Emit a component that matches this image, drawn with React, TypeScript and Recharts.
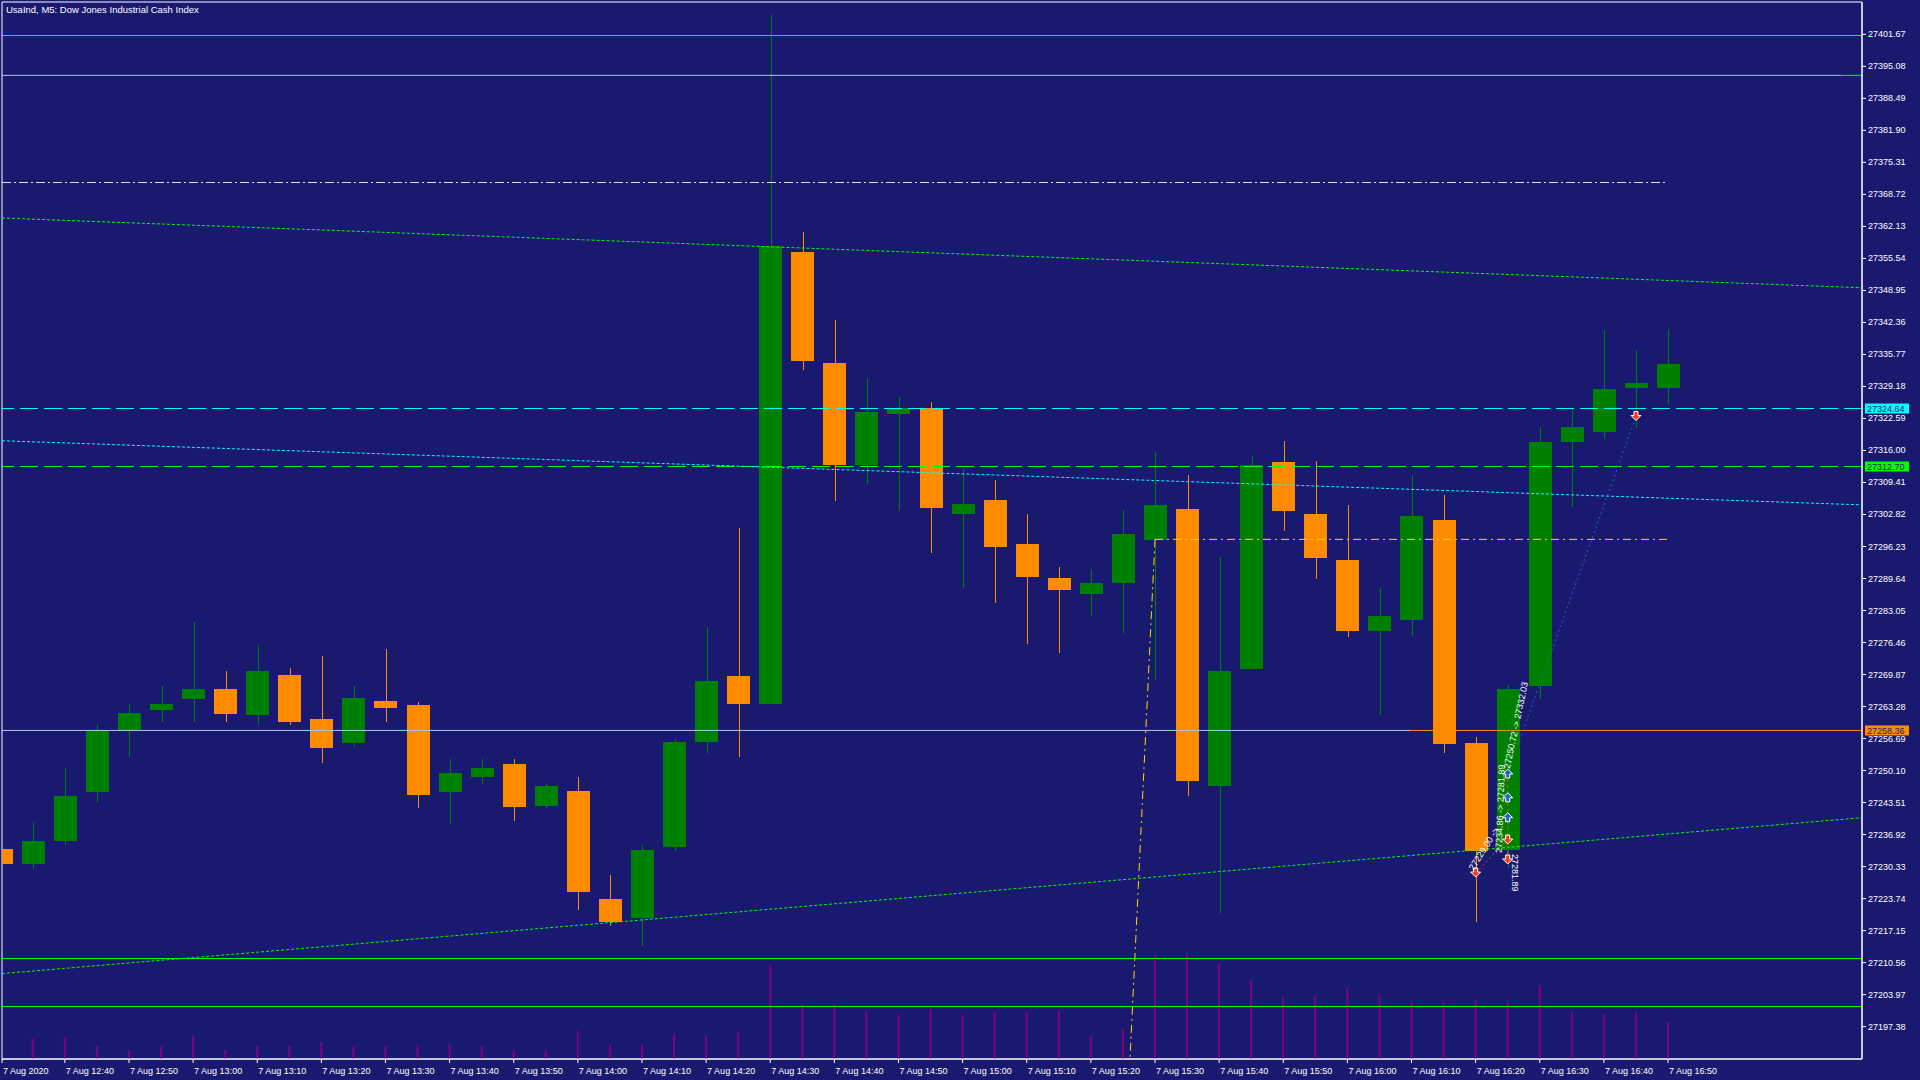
import React from 'react';
import { ComposedChart, Bar, XAxis, YAxis, ReferenceLine, ReferenceArea, ReferenceDot } from 'recharts';

const title = 'UsaInd, M5:  Dow Jones Industrial Cash Index';
const dateLabel = '7 Aug 2020';
const dayPrefix = '7 Aug';

const times = [
  '12:30', '12:35', '12:40', '12:45', '12:50', '12:55', '13:00', '13:05', '13:10', '13:15',
  '13:20', '13:25', '13:30', '13:35', '13:40', '13:45', '13:50', '13:55', '14:00', '14:05',
  '14:10', '14:15', '14:20', '14:25', '14:30', '14:35', '14:40', '14:45', '14:50', '14:55',
  '15:00', '15:05', '15:10', '15:15', '15:20', '15:25', '15:30', '15:35', '15:40', '15:45',
  '15:50', '15:55', '16:00', '16:05', '16:10', '16:15', '16:20', '16:25', '16:30', '16:35',
  '16:40', '16:45', '16:50',
];
const opens = [
  27234.0, 27230.8, 27235.5, 27245.6, 27258.2, 27262.5, 27264.8, 27266.8, 27261.5, 27269.8,
  27260.7, 27255.7, 27264.5, 27263.5, 27245.6, 27248.7, 27251.4, 27242.9, 27245.9, 27223.7,
  27219.7, 27234.3, 27256.0, 27269.6, 27263.8, 27356.9, 27334.0, 27313.0, 27323.5, 27324.7,
  27302.9, 27305.9, 27296.8, 27289.8, 27286.5, 27288.7, 27297.6, 27304.0, 27246.9, 27271.1,
  27313.6, 27302.9, 27293.5, 27278.9, 27281.2, 27301.7, 27255.8, 27233.8, 27267.6, 27317.8,
  27319.9, 27328.9, 27328.9,
];
const highs = [
  27236.0, 27239.3, 27250.7, 27259.5, 27263.8, 27267.6, 27280.7, 27270.6, 27275.9, 27271.3,
  27273.6, 27267.6, 27275.1, 27264.3, 27252.4, 27252.4, 27252.4, 27247.4, 27248.7, 27228.7,
  27234.8, 27256.7, 27279.7, 27300.1, 27405.7, 27361.0, 27342.9, 27330.9, 27327.0, 27326.0,
  27312.2, 27309.9, 27302.9, 27292.0, 27291.5, 27303.7, 27315.7, 27310.9, 27294.1, 27314.8,
  27318.0, 27313.8, 27304.8, 27287.7, 27310.9, 27306.8, 27257.0, 27267.7, 27320.8, 27324.7,
  27340.8, 27336.7, 27341.0,
];
const lows = [
  27229.0, 27229.8, 27234.8, 27243.6, 27252.9, 27260.0, 27260.0, 27260.0, 27259.5, 27259.5,
  27251.7, 27255.0, 27260.0, 27242.4, 27239.1, 27247.4, 27239.8, 27242.4, 27221.4, 27218.2,
  27213.9, 27233.5, 27253.7, 27252.9, 27263.8, 27332.5, 27305.6, 27309.0, 27303.6, 27294.8,
  27287.7, 27284.7, 27276.1, 27274.4, 27281.9, 27278.4, 27268.8, 27244.9, 27220.7, 27271.0,
  27299.5, 27289.6, 27277.6, 27261.5, 27277.9, 27253.8, 27218.9, 27230.0, 27264.8, 27304.4,
  27318.4, 27320.7, 27325.6,
];
const closes = [
  27230.8, 27235.5, 27244.9, 27258.5, 27262.0, 27263.8, 27266.8, 27261.8, 27270.6, 27260.0,
  27254.7, 27265.0, 27263.0, 27245.1, 27249.7, 27250.7, 27242.6, 27246.9, 27225.0, 27218.9,
  27233.8, 27256.0, 27268.6, 27263.8, 27358.1, 27334.4, 27313.0, 27323.9, 27324.7, 27304.1,
  27304.9, 27296.1, 27290.0, 27287.2, 27288.7, 27298.8, 27304.8, 27247.9, 27270.6, 27313.1,
  27303.5, 27293.9, 27278.9, 27281.9, 27302.6, 27255.6, 27233.6, 27266.9, 27317.8, 27320.8,
  27328.6, 27329.9, 27333.8,
];
const volumes = [
  12, 20, 22, 13, 9, 12, 23, 9, 13, 13,
  17, 12, 13, 14, 15, 13, 10, 10, 28, 14,
  14, 26, 23, 27, 94, 55, 55, 48, 44, 50,
  44, 48, 48, 49, 24, 30, 105, 106, 96, 79,
  62, 63, 71, 64, 58, 57, 59, 58, 74, 47,
  45, 46, 37,
];
const priceTicks = [
  27197.38, 27203.97, 27210.56, 27217.15, 27223.74, 27230.33, 27236.92, 27243.51, 27250.10,
  27256.69, 27263.28, 27269.87, 27276.46, 27283.05, 27289.64, 27296.23, 27302.82, 27309.41,
  27316.00, 27322.59, 27329.18, 27335.77, 27342.36, 27348.95, 27355.54, 27362.13, 27368.72,
  27375.31, 27381.90, 27388.49, 27395.08, 27401.67,
];

// horizontal levels
const greenLevels = [27401.53, 27211.46, 27201.57];
const paleLevel = 27393.23;
const bidLevel = 27258.36;
const askLevel = 27324.64;
const greenDashLevel = 27312.7;
const dashDotLevel = 27371.17;
const yellowLevel = 27297.7;

// trend lines [x1, y1, x2, y2] in bar index / price
const upperTrend = [0.04, 27363.86, 58.05, 27349.5];
const lowerTrend = [0.04, 27208.3, 58.05, 27240.4];
const cyanTrend = [0.04, 27318.0, 58.05, 27304.8];
const yellowSlant = [36, 27297.7, 35.22, 27190.72];
const blueTrade = [47, 27249.6, 51, 27323.0];
const redTrade = [46, 27229.0, 47, 27236.0];

const xDomain = [0.04, 58.05];
const yDomain = [27190.72, 27408.33];

const BG = '#191970';
const UP = '#008000';
const DOWN = '#ff8c00';
const LIME = '#00ff00';
const PALE = '#b0c4de';
const FONT = '"Liberation Sans", Arial, sans-serif';

const data = times.map((t, i) => ({
  i,
  t,
  open: opens[i],
  high: highs[i],
  low: lows[i],
  close: closes[i],
  range: [lows[i], highs[i]],
  vol: volumes[i],
}));

const xTicks = [xDomain[0], ...times.map((_, i) => i).filter((i) => i >= 2 && i % 2 === 0)];

const Candle = (props: any) => {
  const { x, y, width, height, payload } = props;
  if (x == null || y == null) return null;
  const { open, close, high, low } = payload;
  const color = close >= open ? UP : DOWN;
  const k = height / (high - low || 1);
  const yo = y + (high - open) * k;
  const yc = y + (high - close) * k;
  const top = Math.min(yo, yc);
  const bh = Math.max(Math.abs(yo - yc), 1);
  const cx = Math.round(x + width / 2) + 0.5;
  return (
    <g shapeRendering="crispEdges">
      <line x1={cx} x2={cx} y1={y} y2={y + height} stroke={color} strokeWidth={1} />
      <rect x={Math.round(x)} y={top} width={Math.round(width)} height={bh} fill={color} />
    </g>
  );
};

const TimeTick = (props: any) => {
  const { x, y, payload } = props;
  const v = payload.value;
  const label = v < 1 ? dateLabel : `${dayPrefix} ${times[Math.round(v)]}`;
  return (
    <text x={x + 1} y={y + 9} fill="#fff" fontSize={9} fontFamily={FONT} textAnchor="start">
      {label}
    </text>
  );
};

const PriceTick = (props: any) => {
  const { x, y, payload } = props;
  return (
    <text x={x} y={y + 3} fill="#fff" fontSize={9} fontFamily={FONT} textAnchor="start">
      {Number(payload.value).toFixed(2)}
    </text>
  );
};

const tag = (value: number, bg: string) => (p: any) => {
  const vb = p.viewBox;
  if (!vb) return null;
  const x = vb.x + vb.width + 3;
  const y = vb.y;
  return (
    <g>
      <rect x={x} y={y - 5} width={44} height={10} fill={bg} />
      <text x={x + 2} y={y + 3.5} fontSize={9} fontFamily={FONT} fill={BG}>
        {value.toFixed(2)}
      </text>
    </g>
  );
};

const DownArrow = (props: any) => {
  const { cx, cy } = props;
  const pts = [
    [cx - 2, cy - 5], [cx + 2, cy - 5], [cx + 2, cy - 1], [cx + 5, cy - 1],
    [cx, cy + 4], [cx - 5, cy - 1], [cx - 2, cy - 1],
  ].map((p) => p.join(',')).join(' ');
  return <polygon points={pts} fill="#e8401c" stroke="#fff" strokeWidth={1} />;
};

const UpArrow = (props: any) => {
  const { cx, cy } = props;
  const pts = [
    [cx, cy - 4], [cx + 5, cy + 1], [cx + 2, cy + 1], [cx + 2, cy + 5],
    [cx - 2, cy + 5], [cx - 2, cy + 1], [cx - 5, cy + 1],
  ].map((p) => p.join(',')).join(' ');
  return <polygon points={pts} fill="#1e64c8" stroke="#fff" strokeWidth={1} />;
};

const RotText = (text: string, dx: number, dy: number, angle: number) => (props: any) => {
  const { cx, cy } = props;
  return (
    <text
      x={cx + dx}
      y={cy + dy}
      fill="#fff"
      fontSize={9}
      fontFamily={FONT}
      transform={`rotate(${angle} ${cx + dx} ${cy + dy})`}
    >
      {text}
    </text>
  );
};

const seg = (s: number[]) => [
  { x: s[0], y: s[1] },
  { x: s[2], y: s[3] },
];

export default function App() {
  return (
    <div style={{ position: 'fixed', left: 0, top: 0, width: 1920, height: 1080, background: BG }}>
      <ComposedChart
        width={1920}
        height={1080}
        data={data}
        margin={{ top: 2, right: 0, bottom: 0, left: 2 }}
        style={{ background: BG }}
      >
        <XAxis
          dataKey="i"
          type="number"
          domain={xDomain}
          allowDataOverflow
          ticks={xTicks}
          interval={0}
          height={21}
          stroke="#fff"
          tickSize={4}
          tickLine={{ stroke: '#fff' }}
          tick={<TimeTick />}
        />
        <XAxis xAxisId="v" dataKey="i" type="number" domain={xDomain} allowDataOverflow hide />
        <YAxis
          orientation="right"
          type="number"
          domain={yDomain}
          allowDataOverflow
          ticks={priceTicks}
          interval={0}
          width={58}
          stroke="#fff"
          tickSize={4}
          tickMargin={2}
          tickLine={{ stroke: '#fff' }}
          tick={<PriceTick />}
        />
        <YAxis yAxisId="v" type="number" domain={[0, 1057]} hide />

        <Bar
          xAxisId="v"
          yAxisId="v"
          dataKey="vol"
          barSize={2}
          fill="#800080"
          isAnimationActive={false}
        />
        <Bar dataKey="range" barSize={23} shape={<Candle />} isAnimationActive={false} />

        {greenLevels.map((lv) => (
          <ReferenceLine key={lv} y={lv} stroke={LIME} strokeWidth={1} shapeRendering="crispEdges" />
        ))}
        <ReferenceLine
          segment={[{ x: xDomain[0], y: paleLevel }, { x: 57.4, y: paleLevel }]}
          stroke={PALE}
          ifOverflow="hidden"
        />
        <ReferenceLine
          segment={[{ x: 57.4, y: paleLevel }, { x: xDomain[1], y: paleLevel }]}
          stroke={LIME}
          ifOverflow="hidden"
        />
        <ReferenceLine
          segment={[{ x: xDomain[0], y: bidLevel }, { x: 44, y: bidLevel }]}
          stroke={PALE}
          ifOverflow="hidden"
        />
        <ReferenceLine
          segment={[{ x: 44, y: bidLevel }, { x: xDomain[1], y: bidLevel }]}
          stroke={DOWN}
          label={tag(bidLevel, DOWN)}
        />
        <ReferenceLine y={askLevel} stroke="#00ffff" strokeDasharray="18 6" label={tag(askLevel, '#00ffff')} />
        <ReferenceLine y={greenDashLevel} stroke={LIME} strokeDasharray="18 6" label={tag(greenDashLevel, LIME)} />
        <ReferenceLine
          segment={[{ x: xDomain[0], y: dashDotLevel }, { x: 52, y: dashDotLevel }]}
          stroke="#e0e0ff"
          strokeDasharray="9 3 2 3"
          ifOverflow="hidden"
        />
        <ReferenceLine
          segment={[{ x: 36, y: yellowLevel }, { x: 52, y: yellowLevel }]}
          stroke="#ffd700"
          strokeDasharray="8 4 2 4"
          ifOverflow="hidden"
        />
        <ReferenceLine segment={seg(yellowSlant)} stroke="#ffd700" strokeDasharray="8 4 2 4" ifOverflow="hidden" />
        <ReferenceLine segment={seg(upperTrend)} stroke={LIME} strokeDasharray="3 2" ifOverflow="hidden" />
        <ReferenceLine segment={seg(lowerTrend)} stroke={LIME} strokeDasharray="3 2" ifOverflow="hidden" />
        <ReferenceLine segment={seg(cyanTrend)} stroke="#00ffff" strokeDasharray="3 2" ifOverflow="hidden" />
        <ReferenceLine segment={seg(blueTrade)} stroke="#1e64c8" strokeDasharray="2 3" ifOverflow="hidden" />
        <ReferenceLine segment={seg(redTrade)} stroke="#e8401c" strokeDasharray="2 3" ifOverflow="hidden" />
        <ReferenceLine segment={[{ x: 47, y: 27231.7 }, { x: 47, y: 27249.6 }]} stroke="#e8401c" strokeDasharray="3 3" ifOverflow="hidden" />

        <ReferenceDot x={47} y={27249.6} shape={<UpArrow />} />
        <ReferenceDot x={47} y={27244.7} shape={<UpArrow />} />
        <ReferenceDot x={47} y={27240.6} shape={<UpArrow />} />
        <ReferenceDot x={47} y={27235.8} shape={<DownArrow />} />
        <ReferenceDot x={47} y={27231.7} shape={<DownArrow />} />
        <ReferenceDot x={46} y={27229.0} shape={<DownArrow />} />
        <ReferenceDot x={51} y={27323.0} shape={<DownArrow />} />
        <ReferenceDot x={47} y={27249.6} shape={RotText('27250.72 -> 27332.03', 2, -4, -78)} />
        <ReferenceDot x={47} y={27231.7} shape={RotText('27281.89', 4, -6, 90)} />
        <ReferenceDot x={47} y={27236.0} shape={RotText('27234.86 -> 27281.89', -6, 14, -88)} />
        <ReferenceDot x={46} y={27229.0} shape={RotText('27229.00 ->', -2, -2, -58)} />

        <ReferenceArea
          x1={xDomain[0]}
          x2={xDomain[1]}
          y1={yDomain[0]}
          y2={yDomain[1]}
          fill="none"
          fillOpacity={0}
          stroke="#fff"
          strokeWidth={1}
          ifOverflow="visible"
        />
      </ComposedChart>
      <svg style={{ position: 'absolute', left: 0, top: 0 }} width={400} height={20}>
        <text x={6} y={13} fill="#fff" fontSize={9.5} fontFamily={FONT}>
          {title}
        </text>
      </svg>
    </div>
  );
}
